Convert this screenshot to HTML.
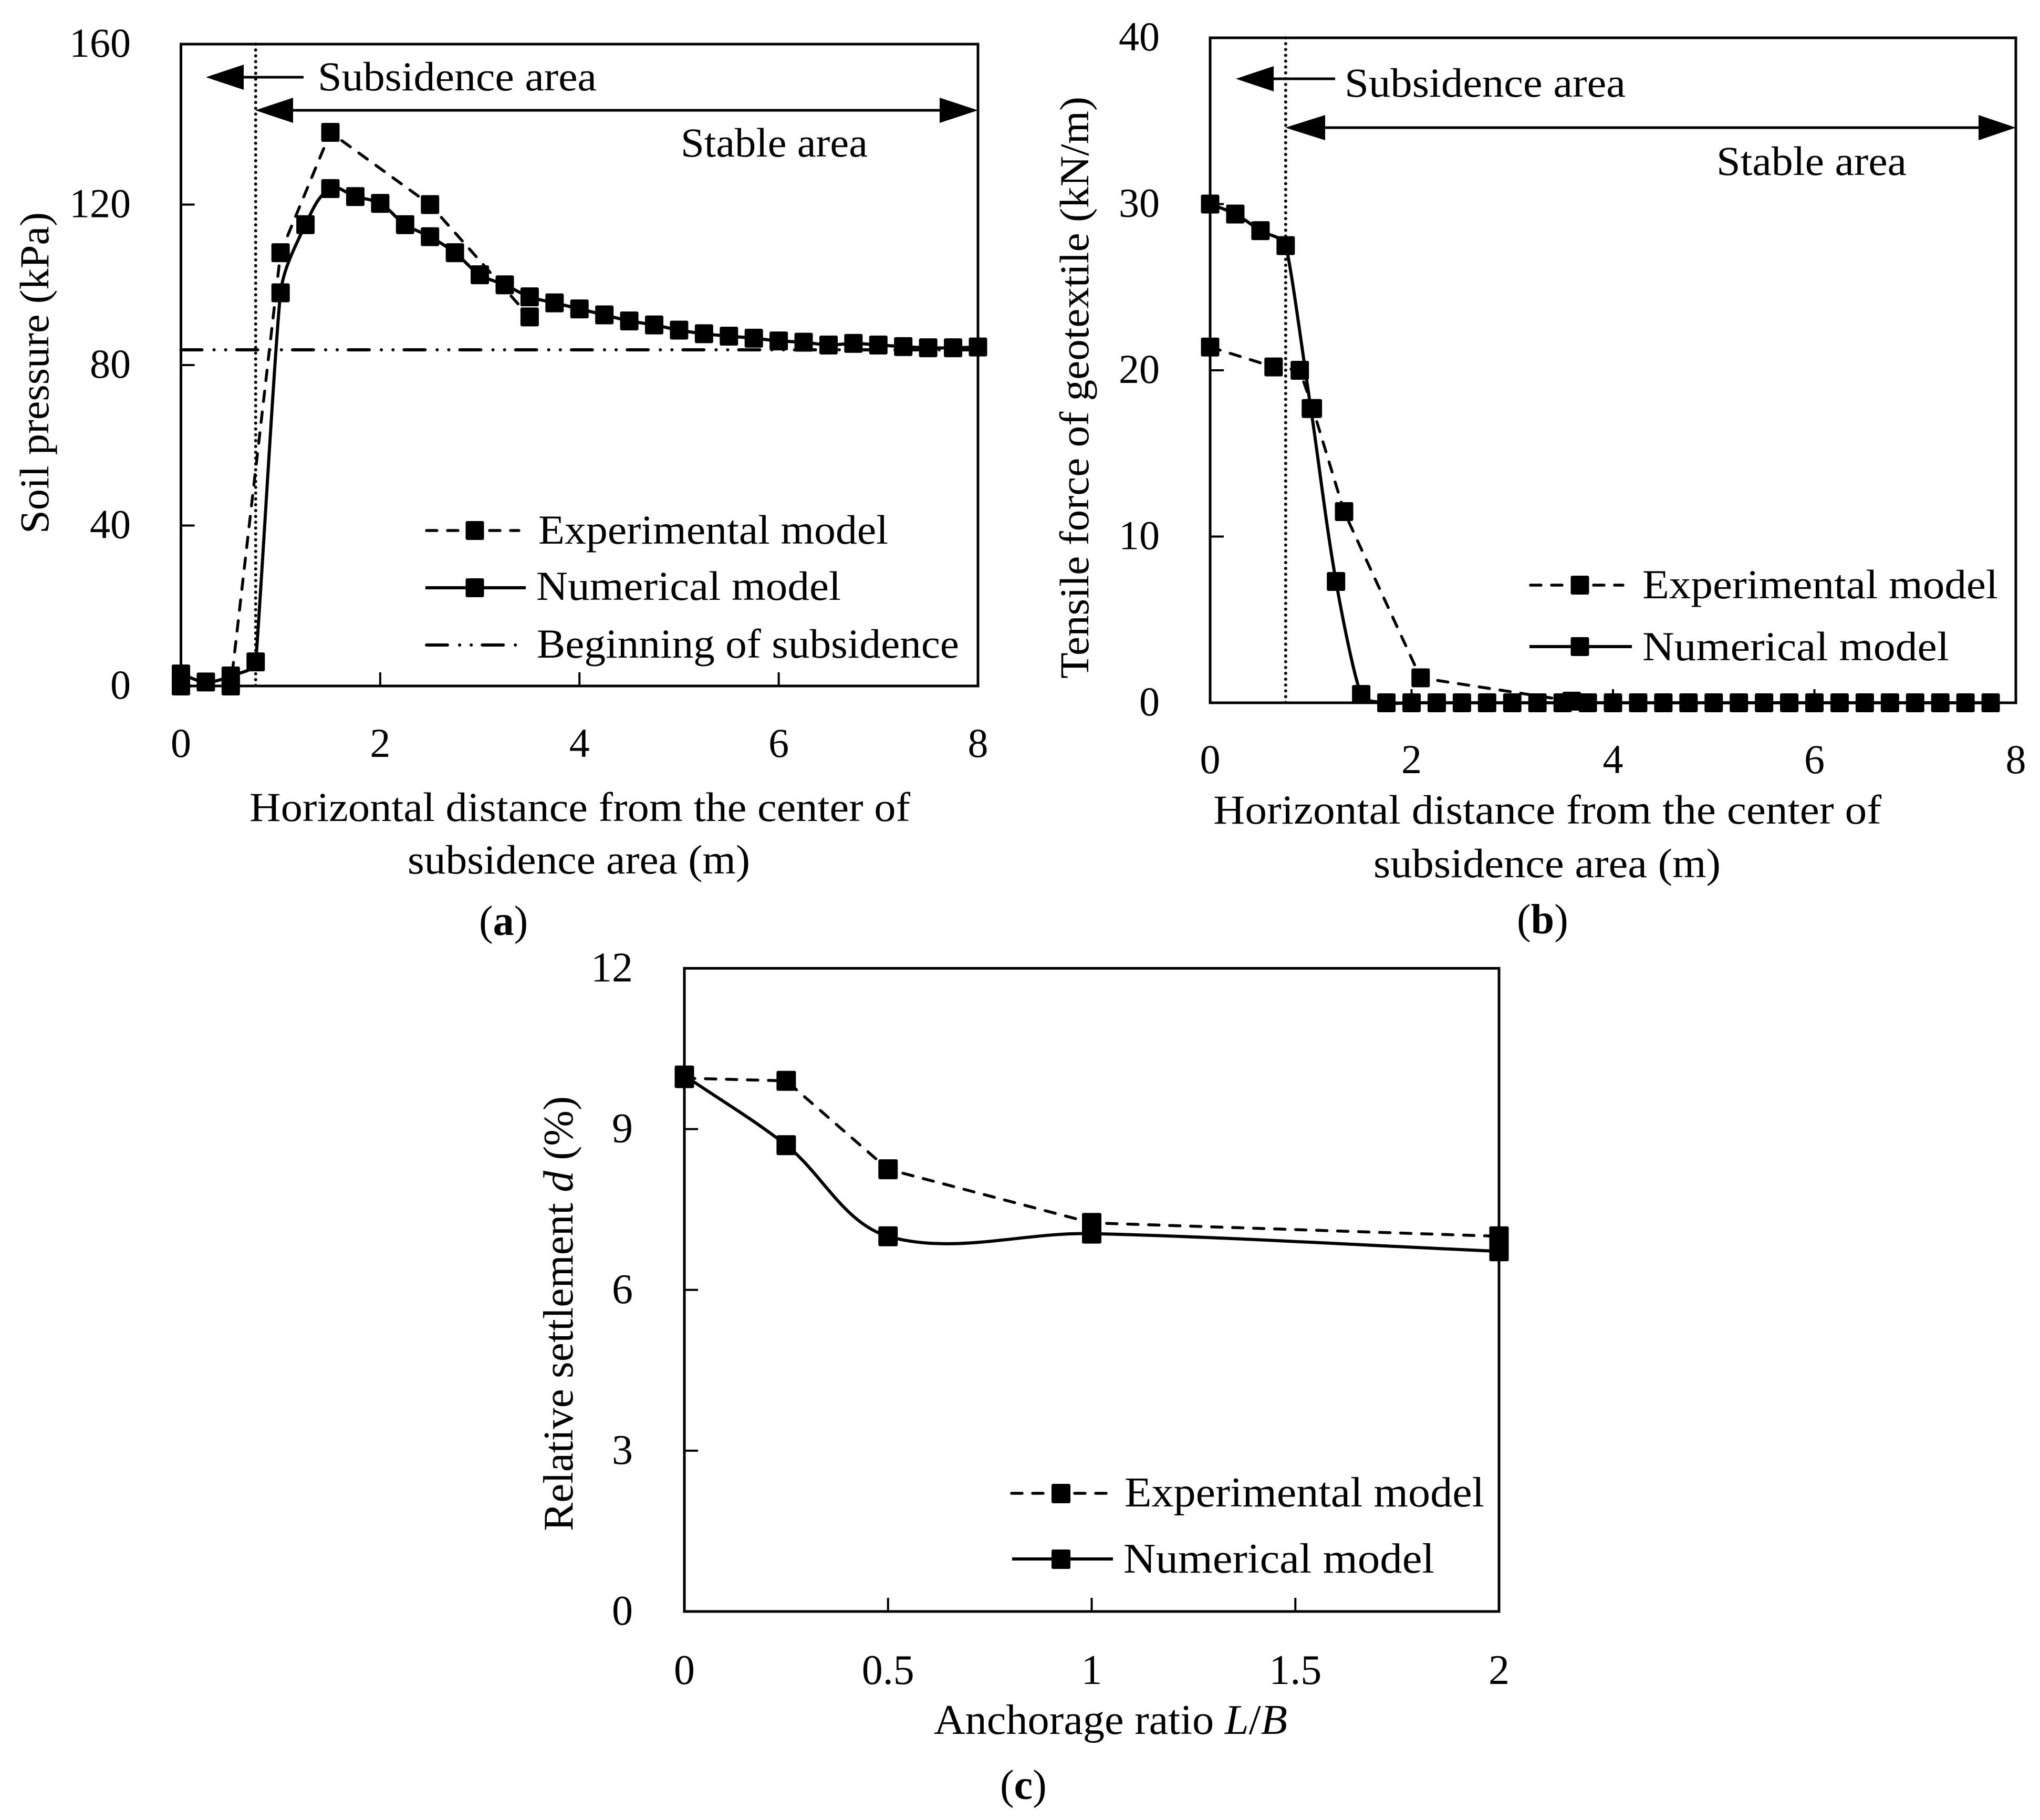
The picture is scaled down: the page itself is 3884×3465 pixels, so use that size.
<!DOCTYPE html>
<html lang="en">
<head>
<meta charset="utf-8">
<title>Soil pressure, tensile force and relative settlement charts</title>
<style>
html,body{margin:0;padding:0;background:#fff;width:3884px;height:3465px;overflow:hidden}
svg{display:block}
text{font-family:"Liberation Serif",serif;font-size:78px;fill:#000}
.thin{stroke:#000;stroke-width:5;fill:none}
.solid{stroke:#000;stroke-width:6;fill:none}
.dash{stroke:#000;stroke-width:5.5;fill:none;stroke-dasharray:20 20;stroke-linecap:round}
</style>
</head>
<body>
<svg id="figure" xmlns="http://www.w3.org/2000/svg" width="3884" height="3465" viewBox="0 0 3884 3465">
<rect width="3884" height="3465" fill="#fff"/>

<g id="chart-a"></g>
<g id="chart-b"></g>
<g id="chart-c"></g>

<!-- Chart (a) annotations -->
<g>
  <line class="thin" x1="460" y1="147" x2="578" y2="147"/>
  <polygon points="392,147 464,123 464,171"/>
  <text x="605" y="172" textLength="531" lengthAdjust="spacingAndGlyphs">Subsidence area</text>
</g>
<g>
  <line class="thin" x1="550" y1="210" x2="1795" y2="210"/>
  <polygon points="486,210 558,186 558,234"/>
  <polygon points="1862,210 1789,186 1789,234"/>
  <text x="1296" y="298" textLength="356" lengthAdjust="spacingAndGlyphs">Stable area</text>
</g>
<g>
  <g>
    <line class="dash" x1="812" y1="1010" x2="988" y2="1010"/>
    <rect x="886.5" y="992" width="35" height="36" rx="3"/>
    <text x="1025" y="1035" textLength="666" lengthAdjust="spacingAndGlyphs">Experimental model</text>
  </g>
  <g>
    <line class="solid" x1="810" y1="1119" x2="1001" y2="1119"/>
    <rect x="886.5" y="1101" width="35" height="36" rx="3"/>
    <text x="1021" y="1142" textLength="580" lengthAdjust="spacingAndGlyphs">Numerical model</text>
  </g>
  <g>
    <line class="solid" x1="812" y1="1228" x2="983" y2="1228" stroke-dasharray="40 23 0.1 22 0.1 21" stroke-linecap="round"/>
    <text x="1022" y="1252" textLength="804" lengthAdjust="spacingAndGlyphs">Beginning of subsidence</text>
  </g>
</g>
<text transform="translate(92,1016) rotate(-90)" textLength="612" lengthAdjust="spacingAndGlyphs">Soil pressure (kPa)</text>
<text x="475" y="1563" textLength="1258" lengthAdjust="spacingAndGlyphs">Horizontal distance from the center of</text>
<text x="776" y="1663" textLength="652" lengthAdjust="spacingAndGlyphs">subsidence area (m)</text>
<text x="912" y="1780" style="font-size:80px">(<tspan font-weight="bold">a</tspan>)</text>

<!-- Chart (b) annotations -->
<g>
  <line class="thin" x1="2420" y1="150" x2="2542" y2="150"/>
  <polygon points="2353,150 2425,126 2425,174"/>
  <text x="2560" y="184" textLength="535" lengthAdjust="spacingAndGlyphs">Subsidence area</text>
</g>
<g>
  <line class="thin" x1="2515" y1="243" x2="3772" y2="243"/>
  <polygon points="2447,243 2523,219 2523,267"/>
  <polygon points="3838,243 3767,219 3767,267"/>
  <text x="3268" y="333" textLength="362" lengthAdjust="spacingAndGlyphs">Stable area</text>
</g>
<g>
  <g>
    <line class="dash" x1="2914" y1="1114" x2="3090" y2="1114"/>
    <rect x="2990.5" y="1096" width="35" height="36" rx="3"/>
    <text x="3127" y="1139" textLength="677" lengthAdjust="spacingAndGlyphs">Experimental model</text>
  </g>
  <g>
    <line class="solid" x1="2912" y1="1231" x2="3107" y2="1231"/>
    <rect x="2990.5" y="1213" width="35" height="36" rx="3"/>
    <text x="3127" y="1257" textLength="584" lengthAdjust="spacingAndGlyphs">Numerical model</text>
  </g>
</g>
<text transform="translate(2072,1292) rotate(-90)" textLength="1108" lengthAdjust="spacingAndGlyphs">Tensile force of geotextile (kN/m)</text>
<text x="2310" y="1568" textLength="1272" lengthAdjust="spacingAndGlyphs">Horizontal distance from the center of</text>
<text x="2615" y="1670" textLength="661" lengthAdjust="spacingAndGlyphs">subsidence area (m)</text>
<text x="2888" y="1777" style="font-size:80px">(<tspan font-weight="bold">b</tspan>)</text>

<!-- Chart (c) annotations -->
<g>
  <g>
    <line class="dash" x1="1926" y1="2843" x2="2106" y2="2843"/>
    <rect x="2002" y="2825" width="36" height="37" rx="3"/>
    <text x="2141" y="2868" style="font-size:80px" textLength="685" lengthAdjust="spacingAndGlyphs">Experimental model</text>
  </g>
  <g>
    <line class="solid" x1="1927" y1="2968" x2="2119" y2="2968"/>
    <rect x="2002" y="2950" width="36" height="37" rx="3"/>
    <text x="2139" y="2994" style="font-size:80px" textLength="592" lengthAdjust="spacingAndGlyphs">Numerical model</text>
  </g>
</g>
<text transform="translate(1090,2915) rotate(-90)" style="font-size:80px" textLength="828" lengthAdjust="spacingAndGlyphs">Relative settlement <tspan font-style="italic">d</tspan> (%)</text>
<text x="1778" y="3301" style="font-size:80px" textLength="673" lengthAdjust="spacingAndGlyphs">Anchorage ratio <tspan font-style="italic">L</tspan>/<tspan font-style="italic">B</tspan></text>
<text x="1904" y="3425" style="font-size:80px">(<tspan font-weight="bold">c</tspan>)</text>
</svg>

<script>
// ---- Chart (a): soil pressure ----
const aXTicks = [0, 2, 4, 6, 8];
const aYTicks = [0, 40, 80, 120, 160];
const aExpX = [0, 0.5, 1, 1.5, 2.5, 3.5];
const aExpY = [0, 0, 108, 138, 120, 92];
const aNumX = [0, 0.25, 0.5, 0.75, 1, 1.25, 1.5, 1.75, 2, 2.25, 2.5, 2.75, 3, 3.25, 3.5, 3.75, 4, 4.25, 4.5, 4.75, 5, 5.25, 5.5, 5.75, 6, 6.25, 6.5, 6.75, 7, 7.25, 7.5, 7.75, 8];
const aNumY = [3, 1, 2.5, 6, 98, 115, 124, 122, 120.3, 115, 112, 108, 102.5, 100, 97, 95.5, 94, 92.5, 91, 90, 88.7, 87.8, 87.2, 86.7, 86, 85.7, 85, 85.4, 85, 84.6, 84.3, 84.3, 84.5];
const aBeginning = [83.8];
const aBoundary = [0.75];

// ---- Chart (b): tensile force ----
const bXTicks = [0, 2, 4, 6, 8];
const bYTicks = [0, 10, 20, 30, 40];
const bExpX = [0, 0.63, 0.89, 1.02, 1.33, 2.09, 3.59];
const bExpY = [21.4, 20.2, 20, 17.7, 11.5, 1.5, 0.1];
const bNumX = [0, 0.25, 0.5, 0.75, 1, 1.25, 1.5, 1.75, 2, 2.25, 2.5, 2.75, 3, 3.25, 3.5, 3.75, 4, 4.25, 4.5, 4.75, 5, 5.25, 5.5, 5.75, 6, 6.25, 6.5, 6.75, 7, 7.25, 7.5, 7.75];
const bNumY = [30, 29.4, 28.4, 27.5, 17.7, 7.3, 0.5, 0, 0, 0, 0, 0, 0, 0, 0, 0, 0, 0, 0, 0, 0, 0, 0, 0, 0, 0, 0, 0, 0, 0, 0, 0];
const bBoundary = [0.75];

// ---- Chart (c): relative settlement ----
const cXTicks = [0, 0.5, 1, 1.5, 2];
const cXTickLabels = ['0', '0.5', '1', '1.5', '2'];
const cYTicks = [0, 3, 6, 9, 12];
const cExpX = [0, 0.25, 0.5, 1, 2];
const cExpY = [9.95, 9.9, 8.25, 7.25, 7];
const cNumX = [0, 0.25, 0.5, 1, 2];
const cNumY = [10, 8.7, 7, 7.05, 6.72];

const NS = 'http://www.w3.org/2000/svg';

function linearScale(d0, d1, r0, r1) {
  return function (v) { return r0 + (v - d0) / (d1 - d0) * (r1 - r0); };
}

function make(parent, tag, attrs, name) {
  const el = document.createElementNS(NS, tag);
  for (const k in attrs) el.setAttribute(k, attrs[k]);
  
  
  parent.appendChild(el);
  return el;
}

// Smooth path: handles follow the neighbour tangent, with length limited by the adjacent segment
function smoothPath(pts) {
  let d = 'M' + pts[0][0] + ' ' + pts[0][1];
  function tangent(i) {
    const a = pts[Math.max(i - 1, 0)], b = pts[Math.min(i + 1, pts.length - 1)];
    const dx = b[0] - a[0], dy = b[1] - a[1], len = Math.hypot(dx, dy) || 1;
    return [dx / len, dy / len];
  }
  function segLen(i) {
    if (i < 0 || i >= pts.length - 1) return Infinity;
    return Math.hypot(pts[i + 1][0] - pts[i][0], pts[i + 1][1] - pts[i][1]);
  }
  for (let i = 0; i < pts.length - 1; i++) {
    const p = pts[i], q = pts[i + 1];
    const seg = segLen(i);
    const h0 = Math.min(seg, 2 * segLen(i - 1)) / 3;
    const h1 = Math.min(seg, 2 * segLen(i + 1)) / 3;
    const t0 = tangent(i), t1 = tangent(i + 1);
    d += 'C' + (p[0] + t0[0] * h0) + ' ' + (p[1] + t0[1] * h0) + ' ' +
         (q[0] - t1[0] * h1) + ' ' + (q[1] - t1[1] * h1) + ' ' + q[0] + ' ' + q[1];
  }
  return d;
}

function straightPath(pts) {
  return 'M' + pts.map(function (p) { return p[0] + ' ' + p[1]; }).join('L');
}

function drawChart(o) {
  const g = document.getElementById(o.id);
  const sx = linearScale(o.xDomain[0], o.xDomain[1], o.left, o.right);
  const sy = linearScale(o.yDomain[0], o.yDomain[1], o.bottom, o.top);

  make(g, 'rect', {
    x: o.left, y: o.top, width: o.right - o.left, height: o.bottom - o.top,
    fill: 'none', stroke: '#000', 'stroke-width': 5
  }, 'plot-frame');

  o.xTicks.forEach(function (t, i) {
    make(g, 'line', { x1: sx(t), x2: sx(t), y1: o.bottom, y2: o.bottom - 26, stroke: '#000', 'stroke-width': 4 }, 'x-tick');
    const label = make(g, 'text', { x: sx(t), y: o.xLabelBaseline, 'text-anchor': 'middle', style: 'font-size:' + o.tickSize + 'px' }, 'x-tick-label');
    label.textContent = o.xLabels ? o.xLabels[i] : String(t);
  });
  o.yTicks.forEach(function (t) {
    make(g, 'line', { x1: o.left, x2: o.left + 26, y1: sy(t), y2: sy(t), stroke: '#000', 'stroke-width': 4 }, 'y-tick');
    const label = make(g, 'text', { x: o.yLabelRight, y: sy(t) + o.yLabelShift, 'text-anchor': 'end', style: 'font-size:' + o.tickSize + 'px' }, 'y-tick-label');
    label.textContent = String(t);
  });

  if (o.boundary) {
    make(g, 'line', {
      x1: sx(o.boundary[0]), x2: sx(o.boundary[0]), y1: o.top, y2: o.bottom,
      stroke: '#000', 'stroke-width': 6, 'stroke-dasharray': '0.1 11', 'stroke-linecap': 'round'
    }, 'subsidence-boundary-line');
  }
  if (o.reference) {
    make(g, 'line', {
      x1: o.left, x2: o.right, y1: sy(o.reference[0]), y2: sy(o.reference[0]),
      stroke: '#000', 'stroke-width': 6, 'stroke-dasharray': '40 23 0.1 22 0.1 21', 'stroke-linecap': 'round'
    }, 'beginning-of-subsidence-line');
  }

  const expPts = o.expX.map(function (x, i) { return [sx(x), sy(o.expY[i])]; });
  const numPts = o.numX.map(function (x, i) { return [sx(x), sy(o.numY[i])]; });

  make(g, 'path', {
    d: straightPath(expPts), fill: 'none', stroke: '#000', 'stroke-width': 5.5,
    'stroke-dasharray': '20 20', 'stroke-linecap': 'round', 'stroke-linejoin': 'round'
  }, 'experimental-model-line');
  make(g, 'path', {
    d: smoothPath(numPts), fill: 'none', stroke: '#000', 'stroke-width': 6, 'stroke-linejoin': 'round'
  }, 'numerical-model-line');

  expPts.forEach(function (p) {
    make(g, 'rect', { x: p[0] - o.markerW / 2, y: p[1] - o.markerH / 2, width: o.markerW, height: o.markerH, rx: 3 }, 'experimental-model-point');
  });
  numPts.forEach(function (p) {
    make(g, 'rect', { x: p[0] - o.markerW / 2, y: p[1] - o.markerH / 2, width: o.markerW, height: o.markerH, rx: 3 }, 'numerical-model-point');
  });
}

drawChart({
  id: 'chart-a', left: 344.5, right: 1862, top: 84, bottom: 1306,
  xDomain: [0, 8], yDomain: [0, 160], xTicks: aXTicks, yTicks: aYTicks,
  expX: aExpX, expY: aExpY, numX: aNumX, numY: aNumY,
  boundary: aBoundary, reference: aBeginning, markerW: 35, markerH: 36,
  xLabelBaseline: 1441, yLabelRight: 249, yLabelShift: 24, tickSize: 78
});
drawChart({
  id: 'chart-b', left: 2304, right: 3838, top: 72, bottom: 1338,
  xDomain: [0, 8], yDomain: [0, 40], xTicks: bXTicks, yTicks: bYTicks,
  expX: bExpX, expY: bExpY, numX: bNumX, numY: bNumY,
  boundary: bBoundary, markerW: 35, markerH: 36,
  xLabelBaseline: 1472, yLabelRight: 2208, yLabelShift: 24, tickSize: 78
});
drawChart({
  id: 'chart-c', left: 1303, right: 2854, top: 1843.5, bottom: 3068,
  xDomain: [0, 2], yDomain: [0, 12], xTicks: cXTicks, yTicks: cYTicks, xLabels: cXTickLabels,
  expX: cExpX, expY: cExpY, numX: cNumX, numY: cNumY,
  markerW: 37, markerH: 38,
  xLabelBaseline: 3206, yLabelRight: 1205, yLabelShift: 25, tickSize: 80
});
</script>
</body>
</html>
